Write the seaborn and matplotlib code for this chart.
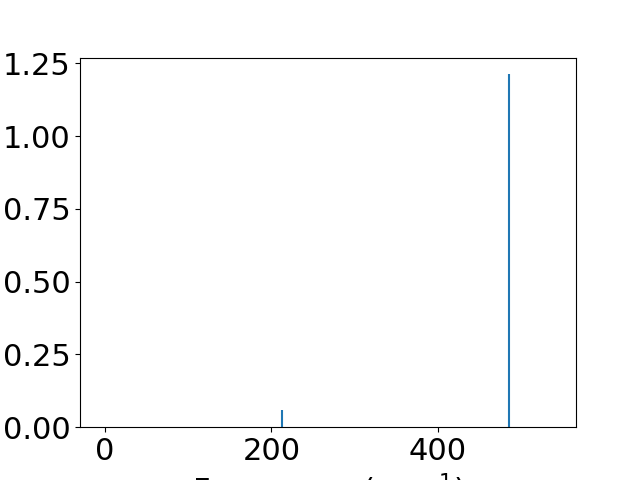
import matplotlib
matplotlib.use("Agg")
import matplotlib.pyplot as plt
import seaborn as sns

# stick spectrum: peak positions (cm^-1) and intensities
freqs = [212.4, 485.2]
intensities = [0.058, 1.212]

plt.rcParams["font.size"] = 22

color = sns.color_palette("tab10")[0]

fig, ax = plt.subplots(figsize=(6.4, 4.8), dpi=100)
ax.vlines(freqs, 0, intensities, colors=color, linewidth=1.5)
ax.set_xlim(-29.6, 565.6)
ax.set_ylim(0, 1.27)
ax.set_yticks([0.0, 0.25, 0.5, 0.75, 1.0, 1.25])
ax.set_xlabel("Frequency (cm$^{-1}$)")

fig.savefig("out.png", dpi=100)
